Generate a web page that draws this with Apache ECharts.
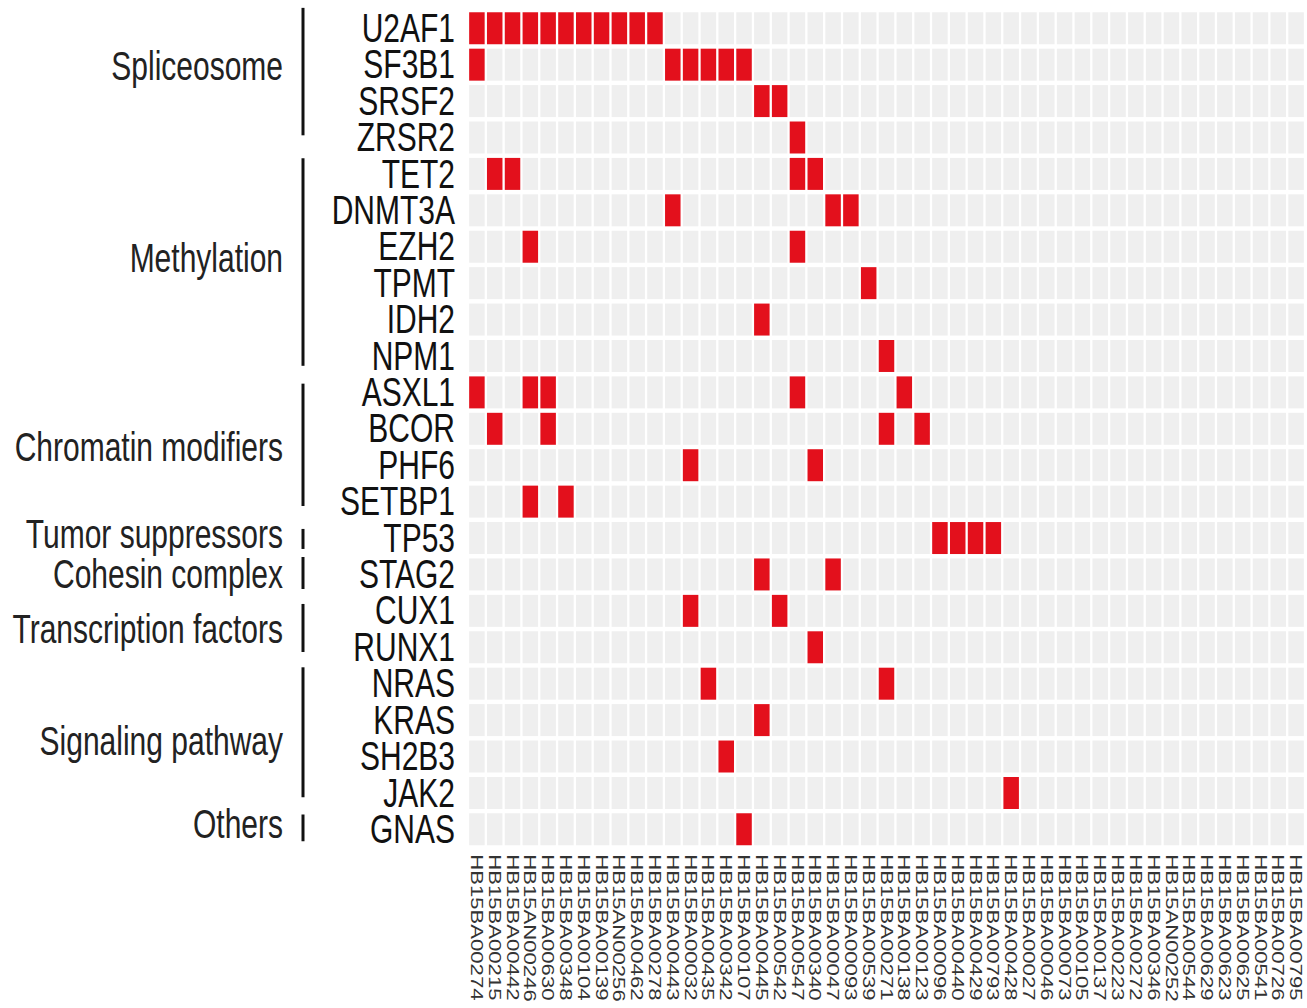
<!DOCTYPE html>
<html>
<head>
<meta charset="utf-8">
<script src="https://cdn.jsdelivr.net/npm/echarts@6/dist/echarts.min.js"></script>
<style>
html,body{margin:0;padding:0;background:#fff;}
#wrap{width:1307px;height:1008px;overflow:hidden;}
#chart{width:1307px;height:752px;transform:scaleY(1.34);transform-origin:0 0;}
</style>
</head>
<body>
<div id="wrap"><div id="chart"></div></div>
<script>
// ---- data ----
const genes = ['U2AF1','SF3B1','SRSF2','ZRSR2','TET2','DNMT3A','EZH2','TPMT','IDH2','NPM1','ASXL1','BCOR','PHF6','SETBP1','TP53','STAG2','CUX1','RUNX1','NRAS','KRAS','SH2B3','JAK2','GNAS'];
const samples = ['HB15BA00274','HB15BA00215','HB15BA00442','HB15AN00246','HB15BA00630','HB15BA00348','HB15BA00104','HB15BA00139','HB15AN00256','HB15BA00462','HB15BA00278','HB15BA00443','HB15BA00032','HB15BA00435','HB15BA00342','HB15BA00107','HB15BA00445','HB15BA00542','HB15BA00547','HB15BA00340','HB15BA00047','HB15BA00093','HB15BA00539','HB15BA00271','HB15BA00138','HB15BA00123','HB15BA00096','HB15BA00440','HB15BA00429','HB15BA00793','HB15BA00428','HB15BA00027','HB15BA00046','HB15BA00073','HB15BA00105','HB15BA00137','HB15BA00223','HB15BA00272','HB15BA00346','HB15AN00252','HB15BA00544','HB15BA00629','HB15BA00623','HB15BA00625','HB15BA00541','HB15BA00726','HB15BA00795'];
// mutated sample positions (1-based) for each gene, in gene order
const mutatedSamples = [
  [1,2,3,4,5,6,7,8,9,10,11],
  [1,12,13,14,15,16],
  [17,18],
  [19],
  [2,3,19,20],
  [12,21,22],
  [4,19],
  [23],
  [17],
  [24],
  [1,4,5,19,25],
  [2,5,24,26],
  [13,20],
  [4,6],
  [27,28,29,30],
  [17,21],
  [13,18],
  [20],
  [14,24],
  [17],
  [15],
  [31],
  [16]
];
const groupNames = ['Spliceosome','Methylation','Chromatin modifiers','Tumor suppressors','Cohesin complex','Transcription factors','Signaling pathway','Others'];
// group bracket extents and label positions, in row units from the top edge
const groupBarStart = [-0.06, 4.07, 10.26, 14.25, 15.02, 16.31, 18.05, 22.09];
const groupBarEnd   = [3.44, 9.77, 13.62, 14.80, 15.90, 17.63, 21.62, 22.83];
const groupLabelPos = [1.54, 6.82, 12.00, 14.39, 15.49, 17.00, 20.08, 22.37];

// ---- build ----
const cellData = [];
for (let g = 0; g < genes.length; g++) {
  const set = new Set(mutatedSamples[g]);
  for (let s = 0; s < samples.length; s++) {
    cellData.push([s, g, set.has(s + 1) ? 1 : 0]);
  }
}
const groupData = groupNames.map((n, i) => [groupBarStart[i], groupBarEnd[i], groupLabelPos[i], i]);

const RED = '#e3101c', GREY = '#efefef';
const chart = echarts.init(document.getElementById('chart'), null, {renderer: 'svg'});
chart.setOption({
  animation: false,
  backgroundColor: '#fff',
  grid: {left: 468, right: 2, top: 7.5, bottom: 119.5},
  xAxis: {
    type: 'category', data: samples, position: 'bottom',
    axisLine: {show: false}, axisTick: {show: false}, splitLine: {show: false},
    axisLabel: {rotate: -90, interval: 0, margin: 5, fontFamily: 'Liberation Sans', fontSize: 16.5, color: '#333'}
  },
  yAxis: {
    type: 'category', data: genes, inverse: true,
    axisLine: {show: false}, axisTick: {show: false}, splitLine: {show: false},
    axisLabel: {interval: 0, margin: 13, fontFamily: 'Liberation Sans', fontSize: 30, color: '#111'}
  },
  series: [
    {
      type: 'custom', data: cellData, clip: false,
      encode: {x: 0, y: 1},
      renderItem: function (params, api) {
        const c = api.coord([api.value(0), api.value(1)]);
        const sz = api.size([1, 1]);
        const w = sz[0] - 2.3, h = sz[1] - 3.3;
        return {type: 'rect', shape: {x: c[0] - w / 2, y: c[1] - h / 2, width: w, height: h},
          style: {fill: api.value(2) ? RED : GREY}};
      }
    },
    {
      type: 'custom', data: groupData, clip: false,
      encode: {y: 2},
      renderItem: function (params, api) {
        const c0 = api.coord([0, 0]);
        const sz = api.size([1, 1]);
        const left = c0[0] - sz[0] / 2;
        const top = c0[1] - sz[1] / 2;
        const y1 = top + api.value(0) * sz[1];
        const y2 = top + api.value(1) * sz[1];
        const yl = top + api.value(2) * sz[1];
        const name = groupNames[api.value(3)];
        return {type: 'group', children: [
          {type: 'rect', shape: {x: left - 166.5, y: y1, width: 3, height: y2 - y1}, style: {fill: '#111'}},
          {type: 'text', x: left - 185, y: yl, style: {text: name, align: 'right', verticalAlign: 'middle',
            font: "30px 'Liberation Sans', Arial, sans-serif", fill: '#222'}}
        ]};
      }
    }
  ]
});
</script>
</body>
</html>
